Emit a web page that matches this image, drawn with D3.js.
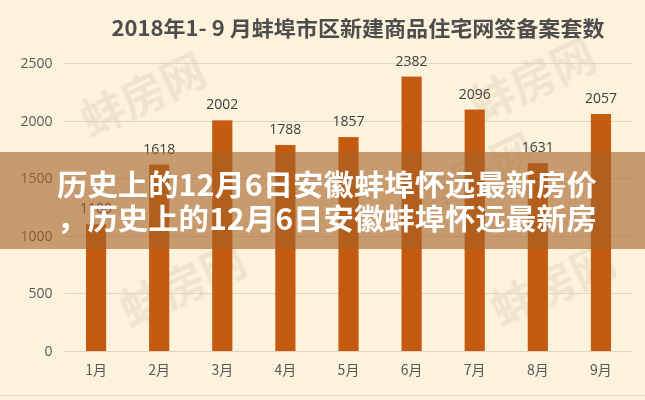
<!DOCTYPE html>
<html><head><meta charset="utf-8">
<script src="https://cdn.jsdelivr.net/npm/d3@7/dist/d3.min.js"></script>
<style>
html,body{margin:0;padding:0;background:#fdf3dc;}
svg{display:block;}
</style></head>
<body>
<svg id="c" width="645" height="400"></svg>
<script>
const titleText = "2018年1- 9 月蚌埠市区新建商品住宅网签备案套数";
const months = ["1月","2月","3月","4月","5月","6月","7月","8月","9月"];
const counts = [1100,1618,2002,1788,1857,2382,2096,1631,2057];
const yTicks = [0,500,1000,1500,2000,2500];
const bannerLines = ["历史上的12月6日安徽蚌埠怀远最新房价","，历史上的12月6日安徽蚌埠怀远最新房"];

const svg = d3.select("#c");
const W = 645, H = 400;
svg.append("rect").attr("width",W).attr("height",H).attr("fill","#fdf3dc");
svg.append("line").attr("x1",0).attr("x2",W).attr("y1",395.5).attr("y2",395.5).attr("stroke","#e6dcc6").attr("stroke-width",1);

const x = d3.scaleBand().domain(months).range([64.5,632.5]).paddingInner(0.68).paddingOuter(0.34);
const y = d3.scaleLinear().domain([0,2500]).range([351,63]);

// watermarks
const wm = svg.append("g").attr("fill","#d8c4ab").attr("opacity",0.3)
  .style("font-family","'Noto Sans CJK SC',sans-serif").style("font-weight","bold");
[[150,110],[540,95],[190,300],[560,300],[480,190]].forEach(([cx,cy])=>{
  wm.append("text").attr("x",cx).attr("y",cy).attr("text-anchor","middle")
    .attr("transform",`rotate(-25,${cx},${cy})`).style("font-size","44px").text("蚌房网");
});

// gridlines
svg.append("g").selectAll("line").data(yTicks).join("line")
  .attr("x1",64.5).attr("x2",632.5)
  .attr("y1",d=>Math.round(y(d))+0.5).attr("y2",d=>Math.round(y(d))+0.5)
  .attr("stroke","#ddd6c6").attr("stroke-width",1);

// y axis labels
const yAxis = d3.axisLeft(y).tickValues(yTicks).tickFormat(d3.format("d")).tickSize(0).tickPadding(12);
const ya = svg.append("g").attr("transform","translate(64.5,0)").call(yAxis);
ya.select(".domain").remove();
ya.selectAll("text").attr("fill","#595959").style("font-family","'Open Sans',Lato,sans-serif").style("font-size","14px");

// x axis labels
const xAxis = d3.axisBottom(x).tickSize(0).tickPadding(14);
const xa = svg.append("g").attr("transform","translate(0,351)").call(xAxis);
xa.select(".domain").remove();
xa.selectAll("text").attr("fill","#595959").style("font-family","'Noto Sans CJK SC',sans-serif").style("font-size","14px");

// bars
svg.append("g").selectAll("rect").data(counts).join("rect")
  .attr("x",(d,i)=>x(months[i])).attr("width",x.bandwidth())
  .attr("y",d=>y(d)).attr("height",d=>y(0)-y(d)).attr("fill","#c55a11");

// data labels
svg.append("g").selectAll("text").data(counts).join("text")
  .attr("x",(d,i)=>x(months[i])+x.bandwidth()/2).attr("y",d=>y(d)-11)
  .attr("text-anchor","middle").attr("fill","#404040")
  .style("font-family","'Open Sans',Lato,sans-serif").style("font-size","14px").text(d=>d);

// title
svg.append("text").attr("x",358).attr("y",36).attr("text-anchor","middle")
  .attr("fill","#4d4d4d").style("font-family","'Noto Sans CJK SC',sans-serif")
  .style("font-weight","bold").style("font-size","21px").attr("textLength",493).attr("lengthAdjust","spacingAndGlyphs")
  .text(titleText);

// banner
svg.append("rect").attr("x",0).attr("y",152).attr("width",W).attr("height",97)
  .attr("fill","rgb(165,97,37)").attr("opacity",0.6);
svg.append("g").selectAll("text").data(bannerLines).join("text")
  .attr("x",57).attr("y",(d,i)=>196+i*34)
  .attr("fill","#ffffff").style("font-family","'Noto Sans CJK SC',sans-serif")
  .style("font-weight","bold").style("font-size","29px")
  .attr("textLength",540).attr("lengthAdjust","spacingAndGlyphs")
  .text(d=>d);
</script>
</body></html>
